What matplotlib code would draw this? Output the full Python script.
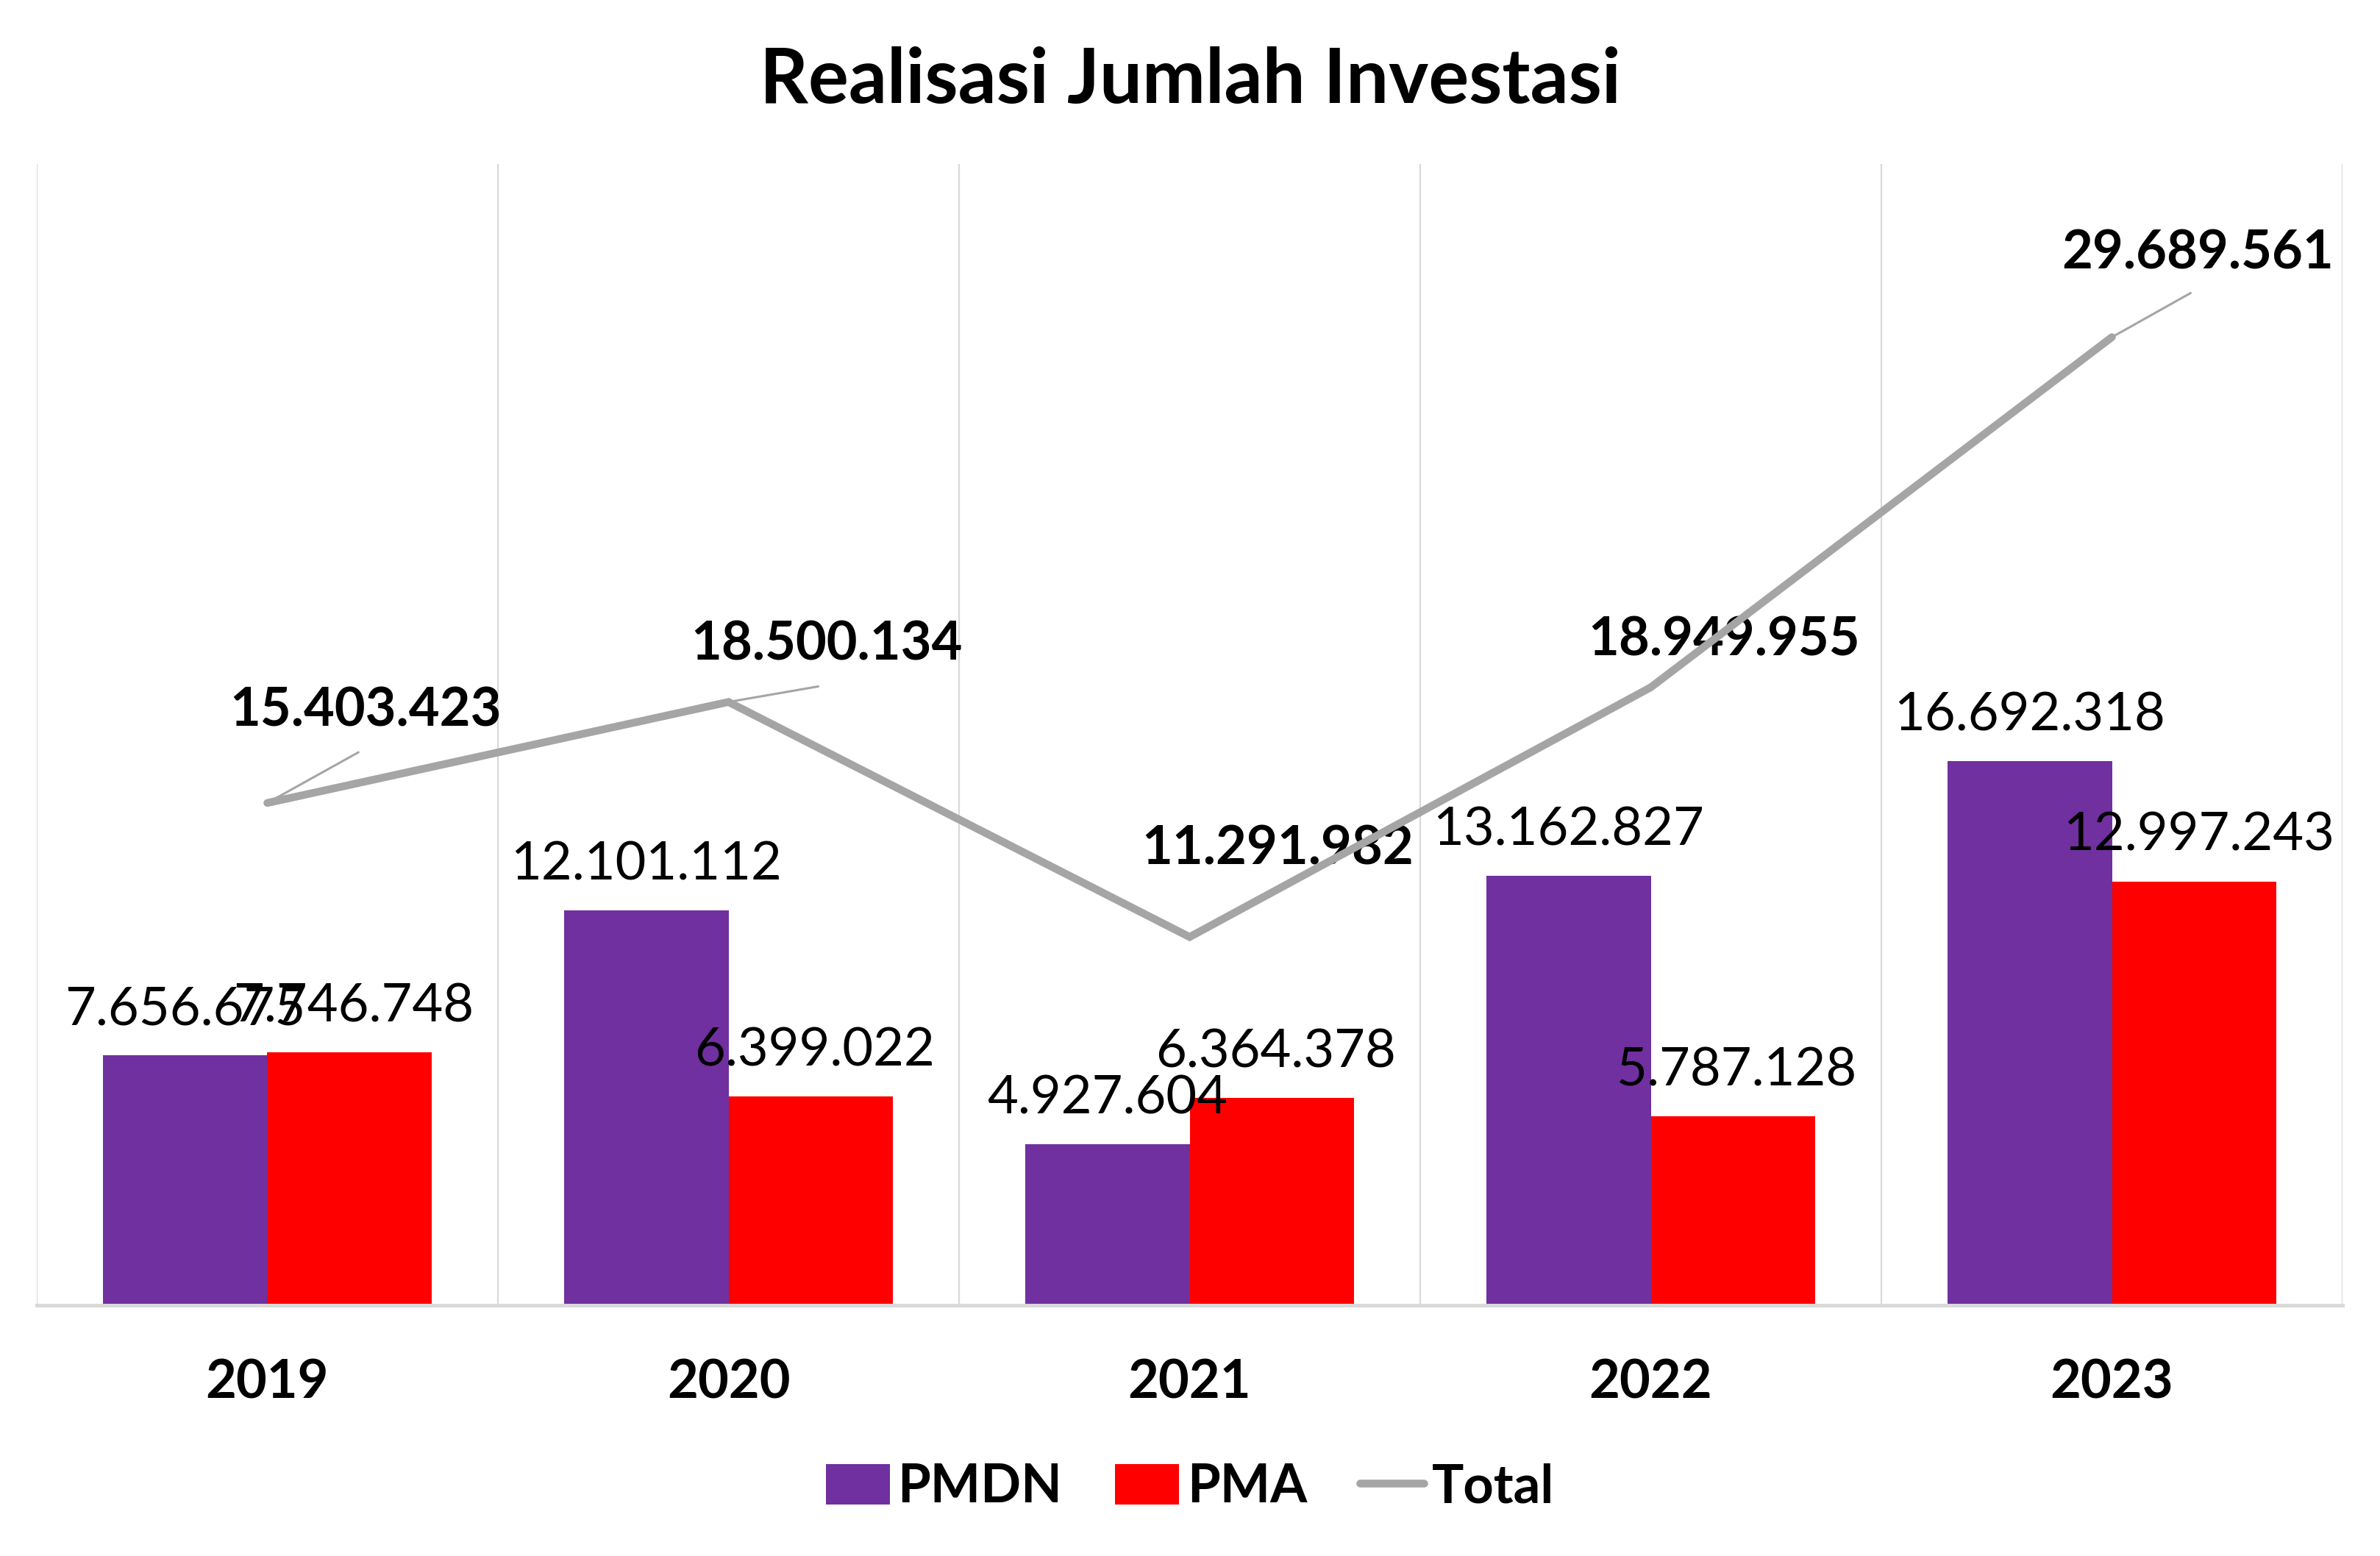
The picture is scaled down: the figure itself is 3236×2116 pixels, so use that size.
import numpy as np
import matplotlib
matplotlib.use("Agg")
import matplotlib.pyplot as plt

plt.rcParams['font.family'] = ['Lato', 'DejaVu Sans']

# data
years = ["2019", "2020", "2021", "2022", "2023"]
pmdn = [7656675, 12101112, 4927604, 13162827, 16692318]
pma = [7746748, 6399022, 6364378, 5787128, 12997243]
total = [15403423, 18500134, 11291982, 18949955, 29689561]

# label offsets for the Total line (points), and leader line ends
total_lbl_off = [(48, 45), (48, 28), (43, 43), (36, 23), (42, 41)]
leader_off = [(44.6, 24.8), (43.9, 7.6), None, None, (38.5, 21.6)]

c_pmdn = "#7030A0"
c_pma = "#FF0000"
c_tot = "#A5A5A5"
c_grid = "#D9D9D9"


def fmt(v):
    return f"{v:,}".replace(",", ".")


fig = plt.figure(figsize=(16.18, 10.58), dpi=200)
ax = fig.add_axes([0.01545, 0.1612, 0.9688, 0.7334])

x = np.arange(len(years))
w = 1 / 2.8

b1 = ax.bar(x - w / 2, pmdn, w, color=c_pmdn, label="PMDN", zorder=2)
b2 = ax.bar(x + w / 2, pma, w, color=c_pma, label="PMA", zorder=2)
ln, = ax.plot(x, total, color=c_tot, lw=3.8, solid_capstyle="round",
              solid_joinstyle="miter", label="Total", zorder=5)

# value labels on bars
for xi, v in zip(x - w / 2, pmdn):
    ax.annotate(fmt(v), (xi, v), xytext=(0, 15), textcoords="offset points",
                ha="center", va="baseline", fontsize=26, zorder=6)
for xi, v in zip(x + w / 2, pma):
    ax.annotate(fmt(v), (xi, v), xytext=(2, 15), textcoords="offset points",
                ha="center", va="baseline", fontsize=26, zorder=6)

# Total labels + leader lines
for i, v in enumerate(total):
    dx, dy = total_lbl_off[i]
    ax.annotate(fmt(v), (x[i], v), xytext=(dx, dy), textcoords="offset points",
                ha="center", va="center", fontsize=26, fontweight="bold", zorder=4)
    if leader_off[i] is not None:
        ax.annotate("", (x[i], v), xytext=leader_off[i], textcoords="offset points",
                    arrowprops=dict(arrowstyle="-", color=c_tot, lw=1.1,
                                    shrinkA=0, shrinkB=0), zorder=4)

# category separators
for b in np.arange(-0.5, len(years), 1.0):
    ax.axvline(b, color=c_grid, lw=0.8, zorder=1)

ax.set_xlim(-0.5, len(years) - 0.5)
ax.set_ylim(0, 35e6)
ax.set_yticks([])
ax.set_xticks(x)
ax.set_xticklabels(years, fontsize=26, fontweight="bold")
ax.tick_params(axis="x", length=0, pad=26)
for s in ["top", "left", "right"]:
    ax.spines[s].set_visible(False)
ax.spines["bottom"].set_color(c_grid)
ax.spines["bottom"].set_linewidth(1.8)
ax.spines["bottom"].set_zorder(3)

fig.text(0.5, 0.9338, "Realisasi Jumlah Investasi", ha="center", va="baseline",
         fontsize=37, fontweight="bold")

fig.legend(handles=[b1, b2, ln], loc="center", bbox_to_anchor=(0.5, 0.044),
           ncol=3, frameon=False, prop=dict(size=26, weight="bold"),
           handlelength=1.2, handleheight=0.8, handletextpad=0.15, columnspacing=1.0)

fig.savefig("out.png", dpi=200)
